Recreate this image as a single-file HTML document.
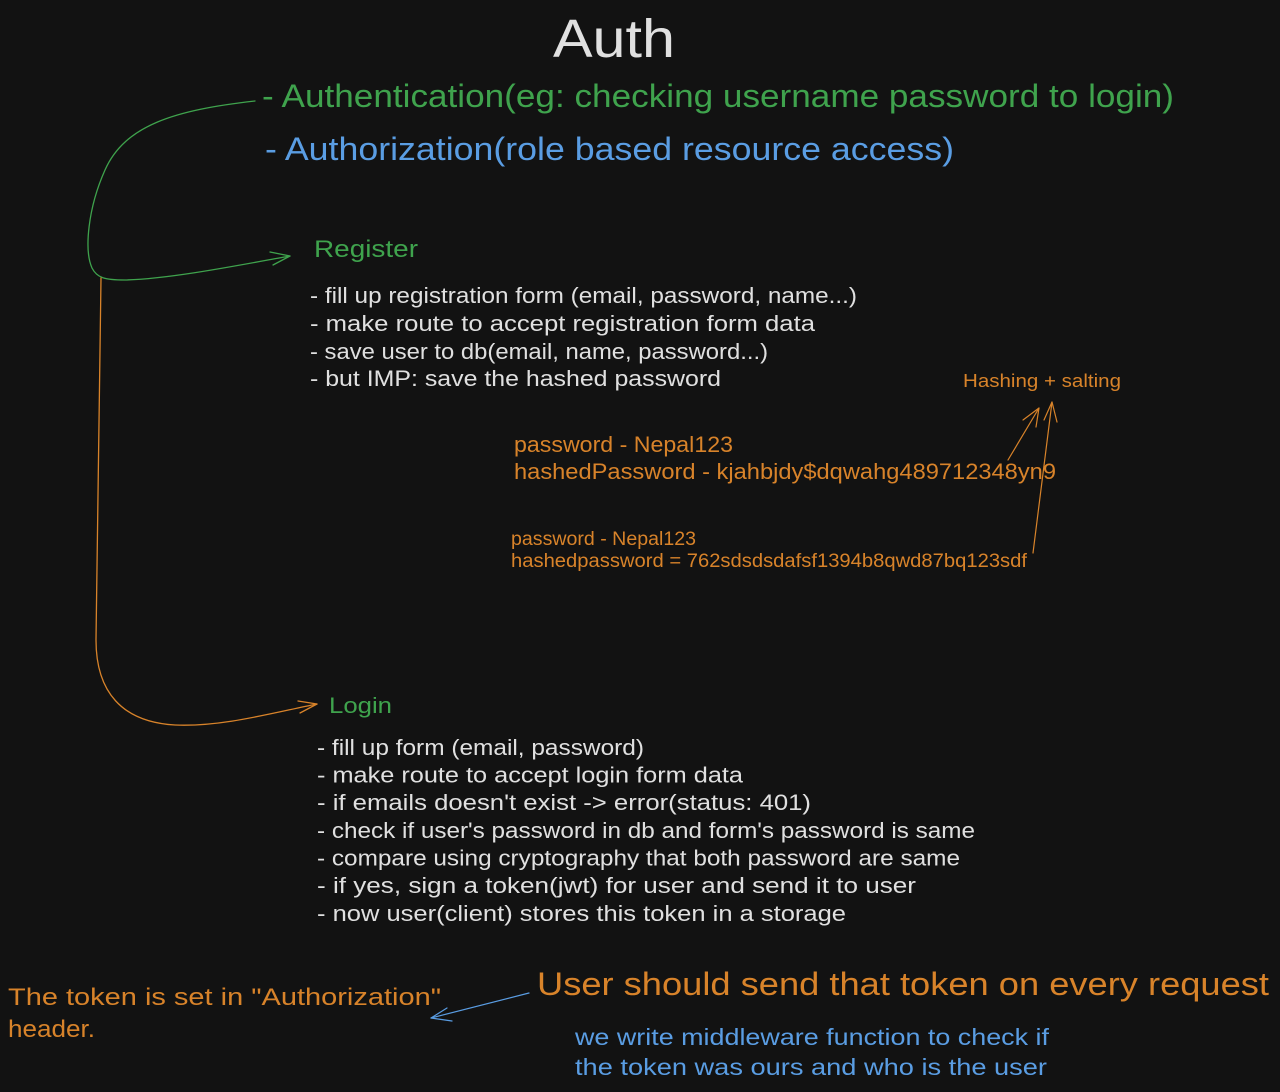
<!DOCTYPE html>
<html>
<head>
<meta charset="utf-8">
<style>
  html, body { margin: 0; padding: 0; background: #121212; }
  body { width: 1280px; height: 1092px; overflow: hidden; }
  svg { display: block; }
  text { font-family: "Liberation Sans", sans-serif; }
  .w { fill: #e0e0e0; }
  .g { fill: #3fa34d; }
  .b { fill: #5a9de3; }
  .o { fill: #d8832a; }
</style>
</head>
<body>
<svg width="1280" height="1092" viewBox="0 0 1280 1092" xmlns="http://www.w3.org/2000/svg">
  <rect width="1280" height="1092" fill="#121212"/>

  <!-- Title -->
  <text class="w" x="553" y="57" font-size="54" textLength="122" lengthAdjust="spacingAndGlyphs">Auth</text>

  <text class="g" x="262" y="107" font-size="32" textLength="912" lengthAdjust="spacingAndGlyphs">- Authentication(eg: checking username password to login)</text>
  <text class="b" x="265" y="160" font-size="32" textLength="689" lengthAdjust="spacingAndGlyphs">- Authorization(role based resource access)</text>

  <!-- Register -->
  <text class="g" x="314" y="257" font-size="24" textLength="104" lengthAdjust="spacingAndGlyphs">Register</text>
  <text class="w" x="310" y="303" font-size="22" textLength="547" lengthAdjust="spacingAndGlyphs">- fill up registration form (email, password, name...)</text>
  <text class="w" x="310" y="331" font-size="22" textLength="505" lengthAdjust="spacingAndGlyphs">- make route to accept registration form data</text>
  <text class="w" x="310" y="359" font-size="22" textLength="458" lengthAdjust="spacingAndGlyphs">- save user to db(email, name, password...)</text>
  <text class="w" x="310" y="386" font-size="22" textLength="411" lengthAdjust="spacingAndGlyphs">- but IMP: save the hashed password</text>

  <!-- Hashing -->
  <text class="o" x="963" y="387" font-size="18" textLength="158" lengthAdjust="spacingAndGlyphs">Hashing + salting</text>
  <text class="o" x="514" y="452" font-size="22" textLength="219" lengthAdjust="spacingAndGlyphs">password - Nepal123</text>
  <text class="o" x="514" y="479" font-size="22" textLength="542" lengthAdjust="spacingAndGlyphs">hashedPassword - kjahbjdy$dqwahg489712348yn9</text>
  <text class="o" x="511" y="545" font-size="19" textLength="185" lengthAdjust="spacingAndGlyphs">password - Nepal123</text>
  <text class="o" x="511" y="567" font-size="19" textLength="516" lengthAdjust="spacingAndGlyphs">hashedpassword = 762sdsdsdafsf1394b8qwd87bq123sdf</text>

  <!-- Login -->
  <text class="g" x="329" y="713" font-size="22" textLength="63" lengthAdjust="spacingAndGlyphs">Login</text>
  <text class="w" x="317" y="755" font-size="22" textLength="327" lengthAdjust="spacingAndGlyphs">- fill up form (email, password)</text>
  <text class="w" x="317" y="782.5" font-size="22" textLength="426" lengthAdjust="spacingAndGlyphs">- make route to accept login form data</text>
  <text class="w" x="317" y="810" font-size="22" textLength="494" lengthAdjust="spacingAndGlyphs">- if emails doesn't exist -&gt; error(status: 401)</text>
  <text class="w" x="317" y="838" font-size="22" textLength="658" lengthAdjust="spacingAndGlyphs">- check if user's password in db and form's password is same</text>
  <text class="w" x="317" y="865.5" font-size="22" textLength="643" lengthAdjust="spacingAndGlyphs">- compare using cryptography that both password are same</text>
  <text class="w" x="317" y="893" font-size="22" textLength="599" lengthAdjust="spacingAndGlyphs">- if yes, sign a token(jwt) for user and send it to user</text>
  <text class="w" x="317" y="921" font-size="22" textLength="529" lengthAdjust="spacingAndGlyphs">- now user(client) stores this token in a storage</text>

  <!-- Bottom -->
  <text class="o" x="8" y="1005" font-size="24" textLength="433" lengthAdjust="spacingAndGlyphs">The token is set in "Authorization"</text>
  <text class="o" x="8" y="1037" font-size="24" textLength="87" lengthAdjust="spacingAndGlyphs">header.</text>
  <text class="o" x="537" y="995" font-size="32" textLength="732" lengthAdjust="spacingAndGlyphs">User should send that token on every request</text>
  <text class="b" x="575" y="1045" font-size="23" textLength="474" lengthAdjust="spacingAndGlyphs">we write middleware function to check if</text>
  <text class="b" x="575" y="1075" font-size="23" textLength="472" lengthAdjust="spacingAndGlyphs">the token was ours and who is the user</text>

  <!-- Connectors -->
  <g fill="none" stroke-linecap="round" stroke-linejoin="round">
    <!-- green: Authentication -> Register -->
    <path d="M255,101 C175,110 125,125 105,170 C88,208 84,250 92,268 C97,278 105,280 125,280 C170,279 240,265 290,256" stroke="#3fa34d" stroke-width="1.3"/>
    <path d="M270,252 L290,256 L273,265" stroke="#3fa34d" stroke-width="1.3"/>

    <!-- orange: -> Login -->
    <path d="M101,278 L96,640 C96,692 122,722 175,725 C222,727 272,713 317,704" stroke="#d8832a" stroke-width="1.3"/>
    <path d="M298,701 L317,704 L300,713" stroke="#d8832a" stroke-width="1.3"/>

    <!-- orange arrows to Hashing + salting -->
    <path d="M1008,460 L1039,408" stroke="#d8832a" stroke-width="1.2"/>
    <path d="M1023,420 L1039,408 L1036,427" stroke="#d8832a" stroke-width="1.2"/>
    <path d="M1033,553 L1052,402" stroke="#d8832a" stroke-width="1.2"/>
    <path d="M1044,420 L1052,402 L1057,422" stroke="#d8832a" stroke-width="1.2"/>

    <!-- blue arrow -->
    <path d="M529,993 L431,1018" stroke="#5a9de3" stroke-width="1.2"/>
    <path d="M447,1008 L431,1018 L452,1021" stroke="#5a9de3" stroke-width="1.2"/>
  </g>
</svg>
</body>
</html>
